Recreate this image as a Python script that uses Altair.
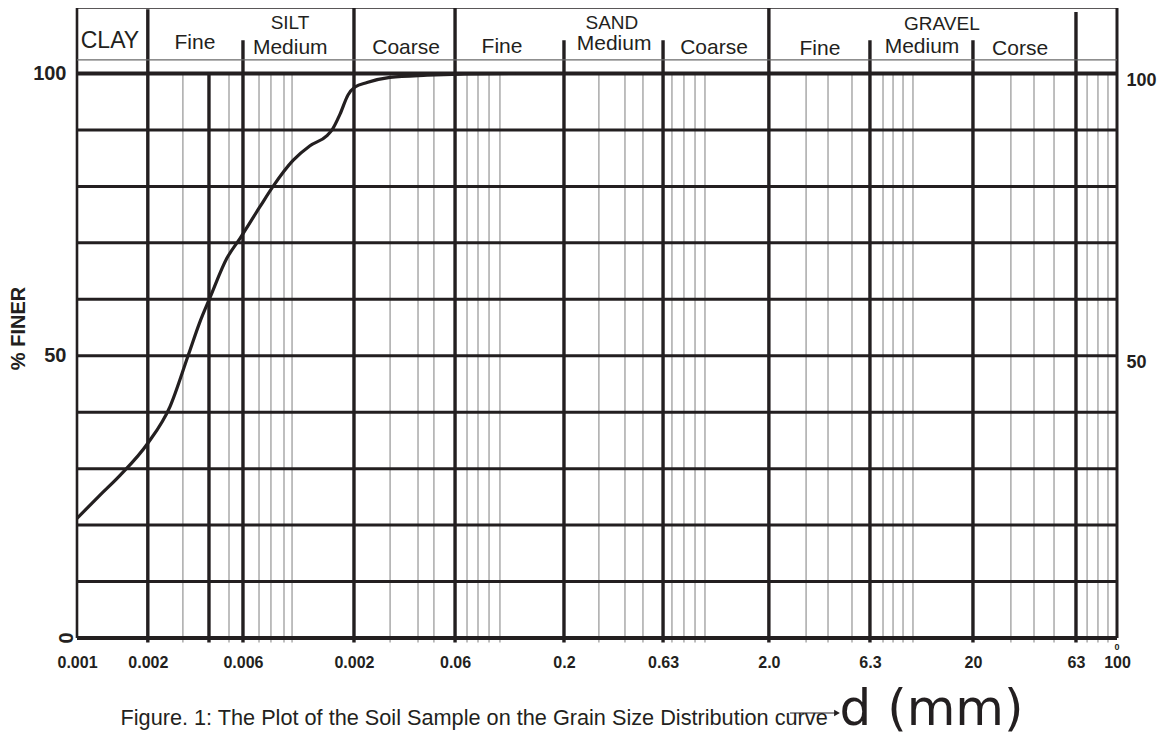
import math
import altair as alt
import pandas as pd

INK = "#231f20"
FONT = "Liberation Sans"
YTOP = 111.6

# ---- grain size distribution curve (d in mm, % finer) ----
curve_d = [0.001, 0.00129, 0.00161, 0.00219, 0.0028, 0.00342, 0.0039, 0.00436,
           0.00526, 0.00608, 0.00758, 0.00876, 0.01093, 0.01319, 0.01592, 0.01683,
           0.01839, 0.02009, 0.0217, 0.02479, 0.03197, 0.04816, 0.0694, 0.1276]
curve_pct = [21.2, 25.3, 28.8, 34.5, 41.0, 50.0, 56.0, 60.3,
             67.3, 70.8, 76.4, 80.0, 84.6, 87.2, 89.0, 90.0,
             92.8, 96.2, 97.6, 98.4, 99.3, 99.7, 99.9, 100.0]

# ---- vertical grid lines ----
major_d = [0.00219, 0.00431, 0.00628, 0.02146, 0.0657, 0.2194, 0.657, 2.12, 6.49, 20.3, 63.5]
major_top = [111.4, 100.0, 105.9, 111.6, 111.6, 105.9, 105.9, 111.6, 105.9, 105.9, 110.9]
minor_d = [0.00323, 0.00538, 0.0075, 0.00856, 0.00989, 0.01081,
           0.032, 0.0436, 0.052, 0.075, 0.0847, 0.0957, 0.108,
           0.323, 0.431, 0.526, 0.725, 0.828, 0.936, 1.045,
           3.2, 4.08, 5.32, 7.5, 8.38, 9.36, 10.45,
           30.9, 39.9, 49.8, 71.8, 81.0, 90.5]
edge_d = [0.001, 100.0]

# ---- horizontal grid lines ----
h_pct = [10, 20, 30, 40, 60, 70, 80, 90, 50]
frame_pct = [0, 100]
header_div = 102.4

# ---- header (soil classes) ----
head_text = ["CLAY", "Fine", "SILT", "Medium", "Coarse", "Fine", "SAND", "Medium",
             "Coarse", "Fine", "GRAVEL", "Medium", "Corse"]
head_d = [0.00144, 0.00369, 0.01057, 0.0106, 0.0382, 0.1105, 0.373, 0.382,
          1.155, 3.73, 14.4, 11.55, 34.2]
head_y = [105.8, 105.4, 108.9, 104.5, 104.5, 104.7, 109.0, 105.3,
          104.5, 104.3, 108.7, 104.7, 104.3]
head_fs = [23, 21, 19, 21, 21, 21, 19, 21, 21, 21, 19, 21, 21]

# ---- axis tick labels ----
tick_vals = [0.001, 0.00219, 0.00628, 0.02146, 0.0657, 0.2194, 0.657, 2.12, 6.49, 20.3, 63.5, 100]
tick_text = ["0.001", "0.002", "0.006", "0.002", "0.06", "0.2", "0.63", "2.0", "6.3", "20", "63", "100"]
y_ticks = [50, 100]

caption = "Figure. 1: The Plot of the Soil Sample on the Grain Size Distribution curve"
x_title = "d (mm)"
y_title = "% FINER"

# label expression built from the tick lists
conds = []
for i in range(len(tick_vals) - 1):
    mid = math.sqrt(tick_vals[i] * tick_vals[i + 1])
    conds.append(f"datum.value < {mid:.6g} ? '{tick_text[i]}'")
label_expr = " : ".join(conds) + f" : '{tick_text[-1]}'"

# ---- tables ----
vert = pd.DataFrame(
    [dict(d=v, y0=-0.8, y1=100.0, w=1.1, c="#8a8a8a") for v in minor_d]
    + [dict(d=v, y0=-0.8, y1=t, w=3.4, c=INK) for v, t in zip(major_d, major_top)]
    + [dict(d=edge_d[0], y0=0, y1=YTOP, w=2.6, c=INK),
       dict(d=edge_d[1], y0=0, y1=YTOP, w=3.0, c=INK)]
)
horiz = pd.DataFrame(
    [dict(p=v, w=3.0, c=INK) for v in h_pct]
    + [dict(p=v, w=4.0, c=INK) for v in frame_pct]
    + [dict(p=header_div, w=1.2, c="#6a6a6a"), dict(p=YTOP, w=1.6, c=INK)]
)
horiz["x0"] = edge_d[0]
horiz["x1"] = edge_d[1]
curve = pd.DataFrame({"d": curve_d, "pct": curve_pct})
head = pd.DataFrame({"t": head_text, "d": head_d, "y": head_y, "fs": head_fs})

xs = alt.Scale(type="log", domain=[0.001, 100], nice=False)
ys = alt.Scale(domain=[0, YTOP], nice=False, zero=False)

# bottom axis: tick labels + figure caption
x_axis = alt.Axis(orient="bottom", values=tick_vals, labelExpr=label_expr, grid=False, domain=False,
                  ticks=False, tickSize=0, labelPadding=16, labelBaseline="top",
                  labelFont=FONT, labelFontSize=16, labelFontWeight="bold", labelColor=INK,
                  labelFlush=False, labelOverlap=False,
                  title=caption, titleFont=FONT, titleFontSize=21.7, titleFontWeight="normal",
                  titleColor=INK, titleX=43, titleY=86, titleAlign="left",
                  titleBaseline="alphabetic", titleAnchor="start", titleLimit=900)
# second bottom axis: only the "d (mm)" title
x_axis2 = alt.Axis(orient="bottom", values=tick_vals, labels=False, grid=False, domain=False,
                   ticks=False, tickSize=0, title=x_title, titleFont="DejaVu Sans",
                   titleFontSize=50, titleFontWeight="normal", titleColor=INK, titleX=762,
                   titleY=86, titleAlign="left", titleBaseline="alphabetic", titleAnchor="start")
y_axis_left = alt.Axis(orient="left", values=y_ticks, grid=False, domain=False, ticks=False, tickSize=0,
                       labelPadding=11, labelFont=FONT, labelFontSize=20,
                       labelFontWeight="bold", labelColor=INK, labelFlush=False,
                       title=y_title, titleFont=FONT, titleFontSize=20, titleFontWeight="bold",
                       titleColor=INK, titleAngle=270, titleX=-59, titleY=320,
                       titleAlign="center", titleBaseline="middle")
y_axis_right = alt.Axis(orient="right", values=y_ticks, grid=False, domain=False, ticks=False,
                        tickSize=0, labelPadding=9, labelOffset=7, labelFont=FONT,
                        labelFontSize=18, labelFontWeight="bold", labelColor=INK,
                        labelFlush=False, title=None)

minor_layer = alt.Chart(vert).mark_rule().encode(
    x=alt.X("d:Q", scale=xs, axis=x_axis),
    y=alt.Y("y0:Q", scale=ys, axis=y_axis_left),
    y2="y1:Q",
    strokeWidth=alt.StrokeWidth("w:Q", scale=None),
    color=alt.Color("c:N", scale=None),
)

horiz_layer = alt.Chart(horiz).mark_rule().encode(
    y=alt.Y("p:Q", scale=ys, axis=y_axis_right),
    x=alt.X("x0:Q", scale=xs, axis=x_axis2),
    x2="x1:Q",
    strokeWidth=alt.StrokeWidth("w:Q", scale=None),
    color=alt.Color("c:N", scale=None),
)

curve_layer = alt.Chart(curve).mark_line(color=INK, strokeWidth=3.2, interpolate="monotone").encode(
    x=alt.X("d:Q", scale=xs, axis=None),
    y=alt.Y("pct:Q", scale=ys, axis=None),
)

head_layer = alt.Chart(head).mark_text(font=FONT, color=INK, align="center", baseline="middle").encode(
    x=alt.X("d:Q", scale=xs, axis=None),
    y=alt.Y("y:Q", scale=ys, axis=None),
    text="t:N",
    size=alt.Size("fs:Q", scale=None),
)

zero_df = pd.DataFrame({"d": [edge_d[0]], "p": [0], "t": ["0"]})
zero_left = alt.Chart(zero_df).mark_text(font=FONT, fontSize=20, fontWeight="bold", color=INK,
                                         angle=90, align="center", baseline="middle", dy=12).encode(
    x=alt.X("d:Q", scale=xs, axis=None),
    y=alt.Y("p:Q", scale=ys, axis=None),
    text="t:N",
)
zero_small_df = pd.DataFrame({"d": [edge_d[1]], "p": [0], "t": ["0"]})
zero_right = alt.Chart(zero_small_df).mark_text(font=FONT, fontSize=9, fontWeight="bold", color=INK,
                                                align="center", baseline="middle", dy=9).encode(
    x=alt.X("d:Q", scale=xs, axis=None),
    y=alt.Y("p:Q", scale=ys, axis=None),
    text="t:N",
)

one = pd.DataFrame({"a": [0]})
arrow_line = alt.Chart(one).mark_rule(color=INK, strokeWidth=1.2).encode(
    x=alt.value(713), x2=alt.value(758), y=alt.value(705))
arrow_head = alt.Chart(one).mark_point(shape="triangle-right", filled=True, color=INK,
                                       size=45, opacity=1).encode(
    x=alt.value(760), y=alt.value(705))

chart = alt.layer(
    minor_layer, horiz_layer, curve_layer, head_layer, zero_left, zero_right,
    arrow_line, arrow_head,
).resolve_scale(y="shared", x="shared").resolve_axis(y="independent", x="independent").properties(
    width=1040, height=630,
    autosize=alt.AutoSizeParams(type="none"),
    padding={"left": 69, "top": 0, "right": 41, "bottom": 98},
).configure_view(stroke=None)

chart.save("out.html", embed_options={"renderer": "svg", "actions": False})
